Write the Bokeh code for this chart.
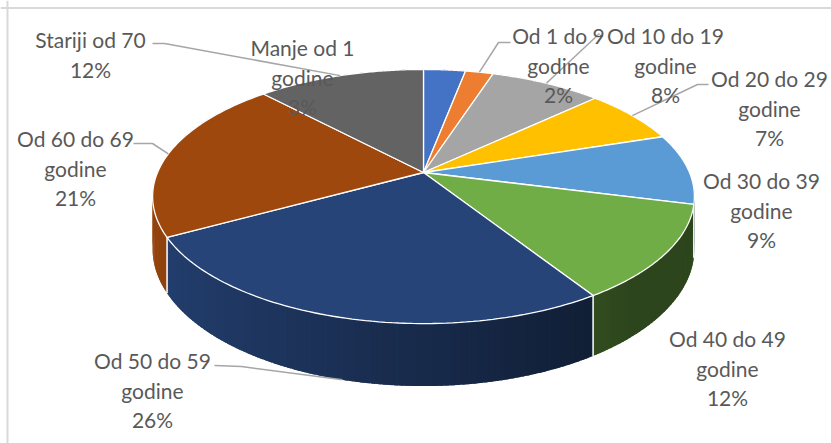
import numpy as np
from bokeh.plotting import figure
from bokeh.models import Range1d, Span
from bokeh.core.properties import value
from bokeh.embed import file_html
from bokeh.resources import INLINE

# ---- data ----
categories = ["Manje od 1 godine", "Od 1 do 9 godine", "Od 10 do 19 godine",
              "Od 20 do 29 godine", "Od 30 do 39 godine", "Od 40 do 49 godine",
              "Od 50 do 59 godine", "Od 60 do 69 godine", "Stariji od 70"]
values = [3, 2, 8, 7, 9, 12, 26, 21, 12]
colors = ["#4472C4", "#ED7D31", "#A5A5A5", "#FFC000", "#5B9BD5",
          "#70AD47", "#264478", "#9E480E", "#636363"]

# ---- layout (label centres / first line y, leader elbows) ----
label_pos = [(302, 47), (558, 35), (665, 35), (769, 78), (761, 180),
             (727, 338), (152, 360), (75, 138), (90, 39)]
leader_pts = [None, [(510, 42), (498, 42)], [(599, 33)], [(708, 84), (697, 84)],
              None, None, [(214, 365), (241, 366)], [(133, 143), (152, 143)],
              [(152, 43), (164, 43)]]
leader_bottom = [False, False, False, False, False, False, True, False, False]
LINE_H = 29.5

W, H = 831, 443
CX, CY = 423.0, 172.0
A, B, C, K = 266.0, 122.5, 50.7, 0.189


def proj(theta, z):
    u = np.sin(theta)
    v = -np.cos(theta)
    d = 1 - K * v
    return CX + A * u / d, CY + (B * v + C * z) / d


def shade(hexcol, f):
    h = hexcol.lstrip("#")
    r, g, b = (int(h[i:i + 2], 16) for i in (0, 2, 4))
    return "#%02x%02x%02x" % (int(round(r * f)), int(round(g * f)), int(round(b * f)))


p = figure(width=W, height=H, x_range=Range1d(0, W), y_range=Range1d(H, 0),
           output_backend="svg", toolbar_location=None, min_border=0,
           x_axis_location=None, y_axis_location=None)
p.grid.visible = False
p.outline_line_color = None
p.background_fill_color = "white"

total = float(sum(values))
cum = np.concatenate([[0], np.cumsum(values)]) / total * 2 * np.pi

# side faces (overlapping strips to avoid seams)
STEP = np.radians(1.0)
OVER = np.radians(0.8)
quads = []
for i, col in enumerate(colors):
    a0, a1 = cum[i], cum[i + 1]
    n = max(2, int(np.ceil((a1 - a0) / STEP)))
    ts = np.linspace(a0, a1, n + 1)
    for j in range(n):
        t0 = ts[j]
        t1 = min(ts[j + 1] + OVER, a1)
        arc = np.linspace(t0, t1, 4)
        xt, yt = proj(arc, 0)
        xb, yb = proj(arc[::-1], 1)
        tm = 0.5 * (ts[j] + ts[j + 1])
        u = np.sin(tm)
        f = min(0.95, max(0.4, 0.62 - 0.33 * u))
        quads.append((-np.cos(tm), list(xt) + list(xb), list(yt) + list(yb), shade(col, f)))
quads.sort(key=lambda q: q[0])
p.patches([q[1] for q in quads], [q[2] for q in quads],
          fill_color=[q[3] for q in quads], line_color=None)

# white vertical edges between slices on the visible side
for t in cum[:-1]:
    if -np.cos(t) > K:
        xa, ya = proj(t, 0)
        xb, yb = proj(t, 1)
        p.line([xa, xb], [ya, yb], line_color="white", line_width=1.5)

# top faces
txs, tys = [], []
for i in range(len(values)):
    ts = np.linspace(cum[i], cum[i + 1], 80)
    xs, ys = proj(ts, 0)
    txs.append([CX] + list(xs))
    tys.append([CY] + list(ys))
p.patches(txs, tys, fill_color=colors, line_color="white", line_width=1.3)

# leader lines
for i, pts in enumerate(leader_pts):
    if pts is None:
        continue
    mid = 0.5 * (cum[i] + cum[i + 1])
    ex, ey = proj(mid, 1 if leader_bottom[i] else 0)
    xs = [q[0] for q in pts] + [ex]
    ys = [q[1] for q in pts] + [ey]
    p.line(xs, ys, line_color="#a6a6a6", line_width=1.5)

# labels
lx, ly, lt = [], [], []
for i, cat in enumerate(categories):
    pct = "%d%%" % round(values[i] / total * 100)
    if cat.endswith(" godine"):
        lines = [cat[:-len(" godine")], "godine", pct]
    else:
        lines = [cat, pct]
    cx, cy = label_pos[i]
    for k, s in enumerate(lines):
        lx.append(cx)
        ly.append(cy + k * LINE_H)
        lt.append(s)
p.text(lx, ly, text=lt, text_align="center", text_baseline="middle",
       text_font=value("Lato"), text_font_size="21px", text_color="#595959")

# chart border (top and left)
p.add_layout(Span(location=7.5, dimension="width", line_color="#d9d9d9", line_width=2))
p.add_layout(Span(location=7.0, dimension="height", line_color="#d9d9d9", line_width=2))

open("out.html", "w").write(file_html(p, INLINE))
